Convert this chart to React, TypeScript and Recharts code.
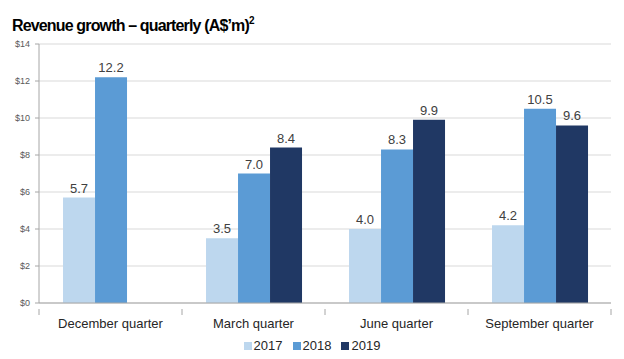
import React from "react";
import {
  BarChart,
  Bar,
  XAxis,
  YAxis,
  CartesianGrid,
  Legend,
  LabelList,
} from "recharts";

const quarters = ["December quarter", "March quarter", "June quarter", "September quarter"];
const rev2017 = [5.7, 3.5, 4.0, 4.2];
const rev2018 = [12.2, 7.0, 8.3, 10.5];
const rev2019: (number | null)[] = [null, 8.4, 9.9, 9.6];
const yTicks = [0, 2, 4, 6, 8, 10, 12, 14];

const data = quarters.map((q, i) => ({
  quarter: q,
  y2017: rev2017[i],
  y2018: rev2018[i],
  y2019: rev2019[i],
}));

const FONT = "'Liberation Sans', Arial, sans-serif";
const fmt = (v: any) => (v == null ? "" : Number(v).toFixed(1));

// category label plus the Excel-style tick marks on the band edges
function QuarterTick(props: any) {
  const { x, y, payload, index, width, visibleTicksCount } = props;
  const bw = width / visibleTicksCount;
  const top = y - 8;
  return (
    <g>
      <line x1={x - bw / 2} x2={x - bw / 2} y1={top} y2={top + 6} stroke="#a6a6a6" />
      {index === visibleTicksCount - 1 && (
        <line x1={x + bw / 2} x2={x + bw / 2} y1={top} y2={top + 6} stroke="#a6a6a6" />
      )}
      <text x={x} y={y + 11} textAnchor="middle" fontSize={13} fill="#262626" fontFamily={FONT}>
        {payload.value}
      </text>
    </g>
  );
}

function LegendBox(props: any) {
  const { payload = [] } = props;
  return (
    <div style={{ display: "flex", justifyContent: "center", fontSize: 13, fontFamily: FONT, color: "#262626" }}>
      {payload.map((p: any) => (
        <div key={p.value} style={{ display: "flex", alignItems: "center", margin: "0 5px" }}>
          <span style={{ width: 8, height: 8, background: p.color, marginRight: 2, display: "inline-block" }} />
          <span>{p.value}</span>
        </div>
      ))}
    </div>
  );
}

export default function App() {
  return (
    <div style={{ position: "fixed", left: 0, top: 0, width: 624, height: 359, background: "#fff", fontFamily: FONT }}>
      <div
        style={{
          position: "absolute",
          left: 12,
          top: 11,
          fontSize: 16,
          fontWeight: "bold",
          color: "#000",
          whiteSpace: "nowrap",
          letterSpacing: -0.85,
          lineHeight: "20px",
        }}
      >
        Revenue growth – quarterly (A$’m)<sup style={{ fontSize: 10, verticalAlign: "7px", letterSpacing: 0 }}>2</sup>
      </div>
      <BarChart
        width={624}
        height={359}
        data={data}
        margin={{ top: 44, right: 13, left: 0, bottom: 24 }}
        barGap={0}
        barCategoryGap="16.8%"
      >
        <CartesianGrid vertical={false} stroke="#d9d9d9" />
        <XAxis
          dataKey="quarter"
          height={32}
          tickLine={false}
          axisLine={{ stroke: "#a6a6a6" }}
          tick={<QuarterTick />}
          tickMargin={8}
        />
        <YAxis
          width={39}
          domain={[0, 14]}
          ticks={yTicks}
          tickFormatter={(v) => `$${v}`}
          axisLine={{ stroke: "#a6a6a6" }}
          tickLine={{ stroke: "#a6a6a6" }}
          tickSize={4}
          tickMargin={5}
          tick={{ fontSize: 9, fill: "#595959", fontFamily: FONT }}
        />
        <Legend
          verticalAlign="middle"
          align="center"
          content={<LegendBox />}
          wrapperStyle={{ top: 338, left: 0, width: 624 }}
        />
        <Bar dataKey="y2017" name="2017" fill="#bdd7ee" isAnimationActive={false}>
          <LabelList dataKey="y2017" position="top" formatter={fmt} style={{ fontSize: 13, fill: "#404040", fontFamily: FONT }} />
        </Bar>
        <Bar dataKey="y2018" name="2018" fill="#5b9bd5" isAnimationActive={false}>
          <LabelList dataKey="y2018" position="top" formatter={fmt} style={{ fontSize: 13, fill: "#404040", fontFamily: FONT }} />
        </Bar>
        <Bar dataKey="y2019" name="2019" fill="#203864" isAnimationActive={false}>
          <LabelList dataKey="y2019" position="top" formatter={fmt} style={{ fontSize: 13, fill: "#404040", fontFamily: FONT }} />
        </Bar>
      </BarChart>
    </div>
  );
}
